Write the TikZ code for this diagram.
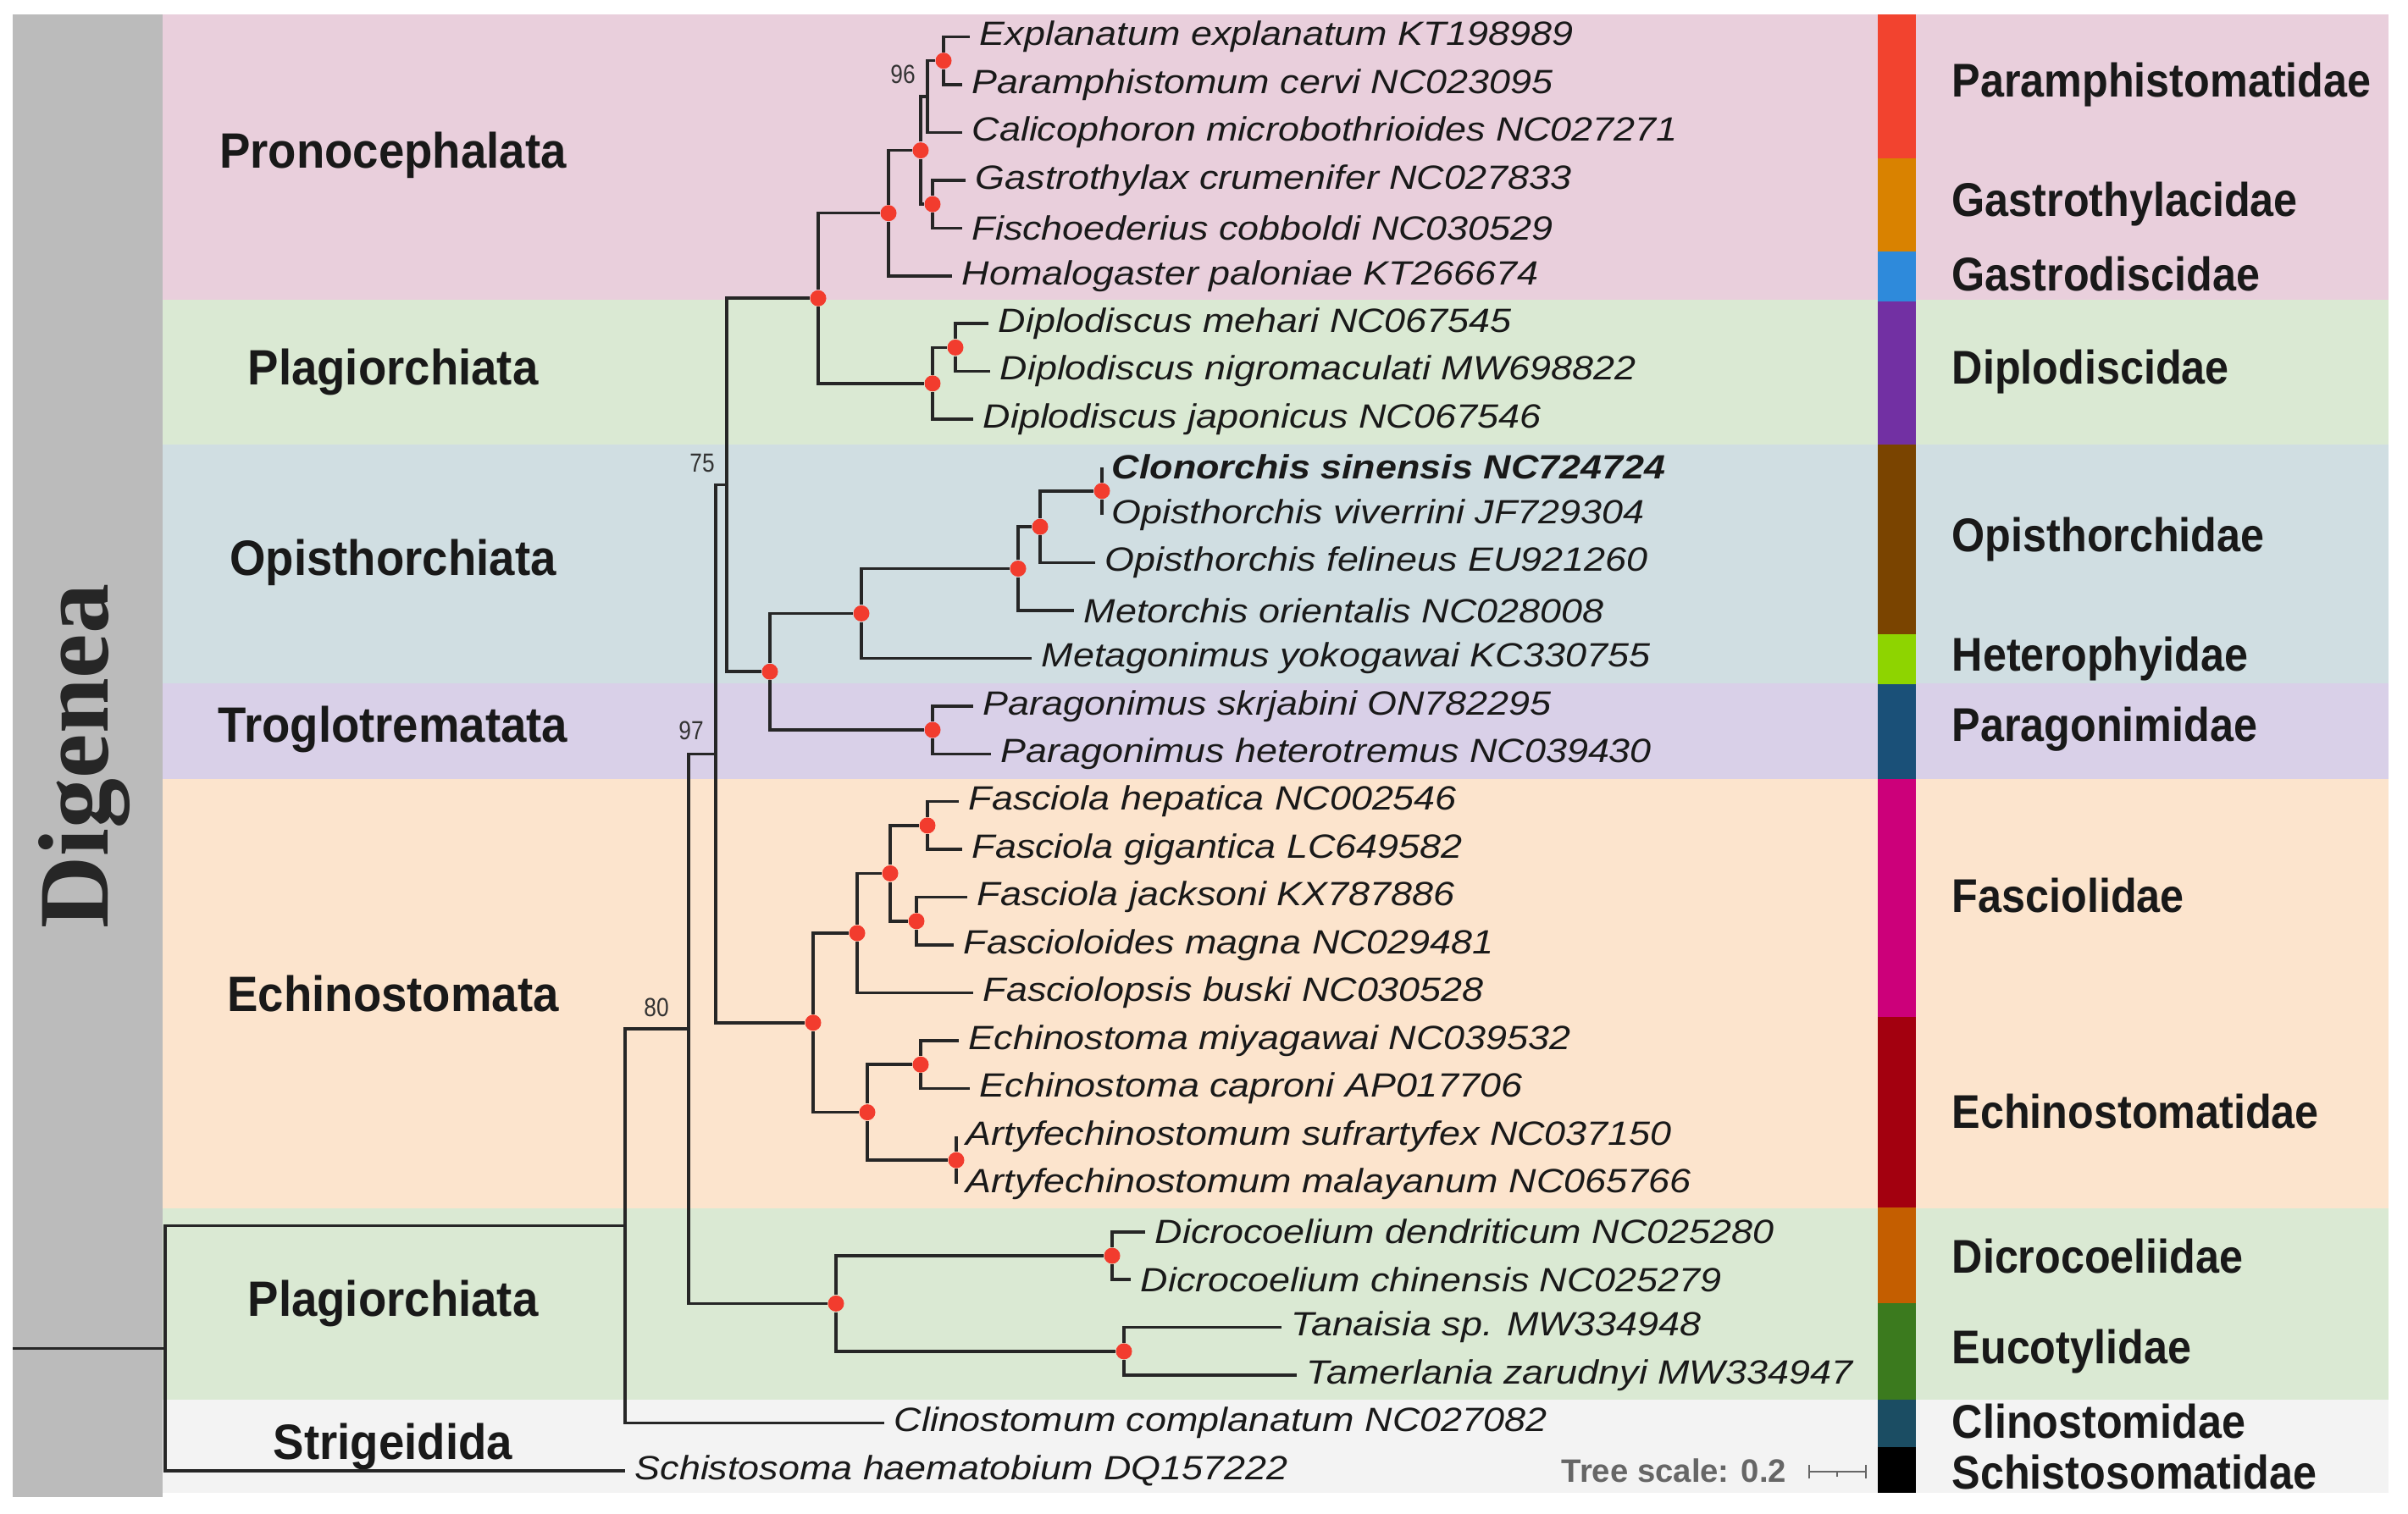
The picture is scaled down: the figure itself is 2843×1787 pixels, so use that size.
\documentclass[tikz,border=0pt]{standalone}
\usepackage{fontspec}
\setmainfont{Liberation Sans}
\newfontfamily\leaffont{Liberation Sans}[FakeStretch=1.13]
\newfontfamily\groupfont{Liberation Sans}[FakeStretch=0.93]
\newfontfamily\famfont{Liberation Sans}[FakeStretch=0.9]
\newfontfamily\bootfont{Liberation Sans}[FakeStretch=0.85]
\newfontfamily\digfont{Liberation Serif}
\usetikzlibrary{arrows.meta}

\definecolor{bgpink}{HTML}{E9CFDC}
\definecolor{bggreen}{HTML}{DAE9D3}
\definecolor{bgblue}{HTML}{D0DEE2}
\definecolor{bglilac}{HTML}{D9D0E8}
\definecolor{bgpeach}{HTML}{FCE4CD}
\definecolor{bggrey}{HTML}{F3F3F3}
\definecolor{bandgrey}{HTML}{BBBBBB}
\definecolor{dotred}{HTML}{F23C2E}
\definecolor{cParam}{HTML}{F2432F}
\definecolor{cGastro}{HTML}{D98200}
\definecolor{cGdisc}{HTML}{2E8ADB}
\definecolor{cDiplo}{HTML}{7230A3}
\definecolor{cOpis}{HTML}{7A4400}
\definecolor{cHetero}{HTML}{8ED400}
\definecolor{cParag}{HTML}{1A5078}
\definecolor{cFasc}{HTML}{CC007A}
\definecolor{cEchino}{HTML}{A3000F}
\definecolor{cDicro}{HTML}{C45E00}
\definecolor{cEuco}{HTML}{3B7A1E}
\definecolor{cClino}{HTML}{1B4D63}

\tikzset{
  leaf/.style={anchor=west, inner xsep=1.1mm, inner ysep=0pt,
    font=\leaffont\itshape\fontsize{11.3}{12}\selectfont, text=black!90},
  grouplabel/.style={font=\groupfont\bfseries\fontsize{16.7}{18}\selectfont, text=black!90},
  famlabel/.style={anchor=west, inner sep=0pt, font=\famfont\bfseries\fontsize{15.9}{17}\selectfont, text=black!90},
  bootlabel/.style={font=\bootfont\fontsize{8.8}{9}\selectfont, text=black!80},
  dot/.style={circle, fill=dotred, inner sep=0pt, minimum size=1.9mm},
  branch/.style={line width=1pt, black!85},
}

\begin{document}
\begin{tikzpicture}[x=0.1mm, y=-0.1mm]
  \useasboundingbox (0,0) rectangle (2843,1787);

  %% background bands
  \fill[bandgrey] (15,17) rectangle (192,1768);
  \fill[bgpink]   (192,17)   rectangle (2820,354);
  \fill[bggreen]  (192,354)  rectangle (2820,525);
  \fill[bgblue]   (192,525)  rectangle (2820,807);
  \fill[bglilac]  (192,807)  rectangle (2820,920);
  \fill[bgpeach]  (192,920)  rectangle (2820,1427);
  \fill[bggreen]  (192,1427) rectangle (2820,1653);
  \fill[bggrey]   (192,1653) rectangle (2820,1763);

  %% family colour strip
  \fill[cParam]  (2217,17)   rectangle (2262,187);
  \fill[cGastro] (2217,187)  rectangle (2262,297);
  \fill[cGdisc]  (2217,297)  rectangle (2262,356);
  \fill[cDiplo]  (2217,356)  rectangle (2262,525);
  \fill[cOpis]   (2217,525)  rectangle (2262,749);
  \fill[cHetero] (2217,749)  rectangle (2262,808);
  \fill[cParag]  (2217,808)  rectangle (2262,920);
  \fill[cFasc]   (2217,920)  rectangle (2262,1201);
  \fill[cEchino] (2217,1201) rectangle (2262,1426);
  \fill[cDicro]  (2217,1426) rectangle (2262,1539);
  \fill[cEuco]   (2217,1539) rectangle (2262,1653);
  \fill[cClino]  (2217,1653) rectangle (2262,1709);
  \fill[black]   (2217,1709) rectangle (2262,1763);

  \node[rotate=90, font=\digfont\bfseries\fontsize{33.6}{34}\selectfont, text=black!85] (dig) at (100,893) {Digenea};

  %% order labels
  \node[grouplabel] (g1) at (464,183)  {Pronocephalata};
  \node[grouplabel] (g2) at (464,439)  {Plagiorchiata};
  \node[grouplabel] (g3) at (464,664)  {Opisthorchiata};
  \node[grouplabel] (g4) at (464,861)  {Troglotrematata};
  \node[grouplabel] (g5) at (464,1173) {Echinostomata};
  \node[grouplabel] (g6) at (464,1539) {Plagiorchiata};
  \node[grouplabel] (g7) at (464,1708) {Strigeidida};

  %% family labels
  \node[famlabel] (f1)  at (2304,100)  {Paramphistomatidae};
  \node[famlabel] (f2)  at (2304,241)  {Gastrothylacidae};
  \node[famlabel] (f3)  at (2304,324)  {Gastrodiscidae};
  \node[famlabel] (f4)  at (2304,439)  {Diplodiscidae};
  \node[famlabel] (f5)  at (2304,637)  {Opisthorchidae};
  \node[famlabel] (f6)  at (2304,778)  {Heterophyidae};
  \node[famlabel] (f7)  at (2304,861)  {Paragonimidae};
  \node[famlabel] (f8)  at (2304,1058) {Fasciolidae};
  \node[famlabel] (f9)  at (2304,1313) {Echinostomatidae};
  \node[famlabel] (f10) at (2304,1483) {Dicrocoeliidae};
  \node[famlabel] (f11) at (2304,1596) {Eucotylidae};
  \node[famlabel] (f12) at (2304,1678) {Clinostomidae};
  \node[famlabel] (f13) at (2304,1738) {Schistosomatidae};

  %% leaves
  \node[leaf] (l1)  at (1145,43.5)   {Explanatum explanatum KT198989};
  \node[leaf] (l2)  at (1136,99.95)  {Paramphistomum cervi NC023095};
  \node[leaf] (l3)  at (1136,156.4)  {Calicophoron microbothrioides NC027271};
  \node[leaf] (l4)  at (1140,212.85) {Gastrothylax crumenifer NC027833};
  \node[leaf] (l5)  at (1136,269.3)  {Fischoederius cobboldi NC030529};
  \node[leaf] (l6)  at (1124,325.75) {Homalogaster paloniae KT266674};
  \node[leaf] (l7)  at (1167,382.2)  {Diplodiscus mehari NC067545};
  \node[leaf] (l8)  at (1169,438.65) {Diplodiscus nigromaculati MW698822};
  \node[leaf] (l9)  at (1149,495.1)  {Diplodiscus japonicus NC067546};
  \node[leaf] (l10) at (1301,551.55) {\bfseries Clonorchis sinensis NC724724};
  \node[leaf] (l11) at (1301,608)    {Opisthorchis viverrini JF729304};
  \node[leaf] (l12) at (1293,664.45) {Opisthorchis felineus EU921260};
  \node[leaf] (l13) at (1268,720.9)  {Metorchis orientalis NC028008};
  \node[leaf] (l14) at (1218,777.35) {Metagonimus yokogawai KC330755};
  \node[leaf] (l15) at (1149,833.8)  {Paragonimus skrjabini ON782295};
  \node[leaf] (l16) at (1170,890.25) {Paragonimus heterotremus NC039430};
  \node[leaf] (l17) at (1132,946.7)  {Fasciola hepatica NC002546};
  \node[leaf] (l18) at (1136,1003.15) {Fasciola gigantica LC649582};
  \node[leaf] (l19) at (1142,1059.6) {Fasciola jacksoni KX787886};
  \node[leaf] (l20) at (1126,1116.05) {Fascioloides magna NC029481};
  \node[leaf] (l21) at (1149,1172.5) {Fasciolopsis buski NC030528};
  \node[leaf] (l22) at (1132,1228.95) {Echinostoma miyagawai NC039532};
  \node[leaf] (l23) at (1145,1285.4) {Echinostoma caproni AP017706};
  \node[leaf] (l24) at (1129,1341.85) {Artyfechinostomum sufrartyfex NC037150};
  \node[leaf] (l25) at (1129,1398.3) {Artyfechinostomum malayanum NC065766};
  \node[leaf] (l26) at (1352,1454.75) {Dicrocoelium dendriticum NC025280};
  \node[leaf] (l27) at (1335,1511.2) {Dicrocoelium chinensis NC025279};
  \node[leaf] (l28) at (1513,1567.65) {Tanaisia sp. MW334948};
  \node[leaf] (l29) at (1531,1624.1) {Tamerlania zarudnyi MW334947};
  \node[leaf] (l30) at (1044,1680.55) {Clinostomum complanatum NC027082};
  \node[leaf] (l31) at (738,1737)    {Schistosoma haematobium DQ157222};

  %% inner nodes
  \node[dot] (n1)  at (1114,71.7)  {};
  \coordinate (n96) at (1095,114.1);
  \node[dot] (n2)  at (1101,241.1) {};
  \node[dot] (n3)  at (1087,177.6) {};
  \node[dot] (n4)  at (1049,251.7) {};
  \node[dot] (n5)  at (1128,410.4) {};
  \node[dot] (n6)  at (1101,452.8) {};
  \node[dot] (n7)  at (966,352.2)  {};
  \node[dot] (n8)  at (1301,579.8) {};
  \node[dot] (n9)  at (1228,622.1) {};
  \node[dot] (n10) at (1202,671.5) {};
  \node[dot] (n11) at (1017,724.4) {};
  \node[dot] (n12) at (1101,862)   {};
  \node[dot] (n13) at (909,793.2)  {};
  \coordinate (n75) at (858,572.7);
  \node[dot] (n14) at (1095,974.9) {};
  \node[dot] (n15) at (1082,1087.8) {};
  \node[dot] (n16) at (1051,1031.4) {};
  \node[dot] (n17) at (1012,1102)  {};
  \node[dot] (n18) at (1087,1257.2) {};
  \node[dot] (n19) at (1129,1370.1) {};
  \node[dot] (n20) at (1024,1313.6) {};
  \node[dot] (n21) at (960,1207.8) {};
  \coordinate (n97) at (845,890.3);
  \node[dot] (n22) at (1313,1483)  {};
  \node[dot] (n23) at (1327,1595.9) {};
  \node[dot] (n24) at (987,1539.4) {};
  \coordinate (n80) at (813,1214.9);
  \coordinate (n25) at (738,1447.7);
  \coordinate (root) at (195,1592.4);
  \coordinate (stem) at (15,1592.4);

  %% support values
  \node[bootlabel] (b96) at (1066,88)   {96};
  \node[bootlabel] (b75) at (829,547)   {75};
  \node[bootlabel] (b97) at (816,863)   {97};
  \node[bootlabel] (b80) at (775,1190)  {80};

  %% branches
  \draw[branch] (n1) |- (l1.west) (n1) |- (l2.west);
  \draw[branch] (n96) |- (n1) (n96) |- (l3.west);
  \draw[branch] (n2) |- (l4.west) (n2) |- (l5.west);
  \draw[branch] (n3) |- (n96) (n3) |- (n2);
  \draw[branch] (n4) |- (n3) (n4) |- (l6.west);
  \draw[branch] (n5) |- (l7.west) (n5) |- (l8.west);
  \draw[branch] (n6) |- (n5) (n6) |- (l9.west);
  \draw[branch] (n7) |- (n4) (n7) |- (n6);
  \draw[branch] (n8) |- (l10.west) (n8) |- (l11.west);
  \draw[branch] (n9) |- (n8) (n9) |- (l12.west);
  \draw[branch] (n10) |- (n9) (n10) |- (l13.west);
  \draw[branch] (n11) |- (n10) (n11) |- (l14.west);
  \draw[branch] (n12) |- (l15.west) (n12) |- (l16.west);
  \draw[branch] (n13) |- (n11) (n13) |- (n12);
  \draw[branch] (n75) |- (n7) (n75) |- (n13);
  \draw[branch] (n14) |- (l17.west) (n14) |- (l18.west);
  \draw[branch] (n15) |- (l19.west) (n15) |- (l20.west);
  \draw[branch] (n16) |- (n14) (n16) |- (n15);
  \draw[branch] (n17) |- (n16) (n17) |- (l21.west);
  \draw[branch] (n18) |- (l22.west) (n18) |- (l23.west);
  \draw[branch] (n19) |- (l24.west) (n19) |- (l25.west);
  \draw[branch] (n20) |- (n18) (n20) |- (n19);
  \draw[branch] (n21) |- (n17) (n21) |- (n20);
  \draw[branch] (n97) |- (n75) (n97) |- (n21);
  \draw[branch] (n22) |- (l26.west) (n22) |- (l27.west);
  \draw[branch] (n23) |- (l28.west) (n23) |- (l29.west);
  \draw[branch] (n24) |- (n22) (n24) |- (n23);
  \draw[branch] (n80) |- (n97) (n80) |- (n24);
  \draw[branch] (n25) |- (n80) (n25) |- (l30.west);
  \draw[branch] (root) |- (n25) (root) |- (l31.west);
  \draw[branch] (stem) -- (root);

  %% tree scale
  \node[anchor=west, inner sep=0pt, font=\bfseries\fontsize{10.9}{11}\selectfont, text=black!60] (tscale) at (1843,1737) {Tree scale: 0.2};
  \coordinate (sb1) at (2135,1738);
  \coordinate (sb2) at (2204,1738);
  \coordinate (sbm) at (2169,1738);
  \draw[line width=0.7pt, black!60, {Bar[width=1.6mm]}-{Bar[width=1.6mm]}] (sb1) -- (sb2);
  \draw[line width=0.7pt, black!60] (sbm) -- ++(0,6);
\end{tikzpicture}
\end{document}
